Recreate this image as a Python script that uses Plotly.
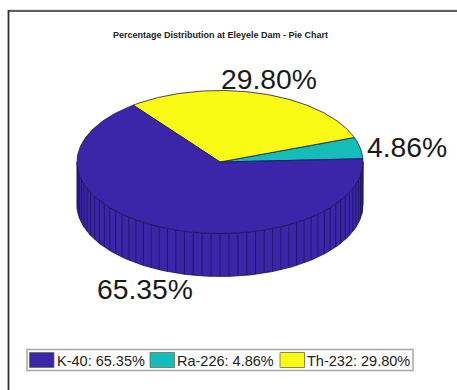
import numpy as np
import plotly.graph_objects as go

# Data
isotopes = ["K-40", "Ra-226", "Th-232"]
percent = [65.35, 4.86, 29.80]
colors = ["#3b25a8", "#14bdb8", "#f9fb15"]
title = "Percentage Distribution at Eleyele Dam - Pie Chart"

# Counter-clockwise drawing order, starting slightly above due east
draw_order = [1, 2, 0]
START_ANGLE = 2.6

# Projection of the disc onto the canvas
CX, CY, RX, RY, DEPTH = 220.0, 162.0, 143.0, 71.5, 43.0
EDGE = "#1c1458"
FACET_DEG = 3.6


def ex(a):
    return CX + RX * np.cos(np.radians(a))


def ey(a):
    return CY - RY * np.sin(np.radians(a))


fig = go.Figure()
total = sum(percent)

# Side wall of the disc (front half)
t = np.linspace(180, 360, 181)
fig.add_trace(go.Scatter(
    x=np.r_[ex(t), ex(t[::-1])], y=np.r_[ey(t), ey(t[::-1]) + DEPTH],
    fill="toself", fillcolor=colors[0], mode="lines",
    line=dict(color=EDGE, width=0.8), hoverinfo="skip", showlegend=False))

# Facet lines of the wall
fa = np.arange(180, 360 + 0.01, FACET_DEG)
fx, fy = [], []
for a in fa:
    fx += [ex(a), ex(a), None]
    fy += [ey(a), ey(a) + DEPTH, None]
fig.add_trace(go.Scatter(x=fx, y=fy, mode="lines",
                         line=dict(color=EDGE, width=0.8),
                         hoverinfo="skip", showlegend=False))

# Top face wedges, sized from the values
start = START_ANGLE
for i in draw_order:
    sweep = percent[i] / total * 360.0
    t = np.linspace(start, start + sweep, max(int(sweep) + 2, 8))
    fig.add_trace(go.Scatter(
        x=np.r_[CX, ex(t), CX], y=np.r_[CY, ey(t), CY],
        fill="toself", fillcolor=colors[i], mode="lines",
        line=dict(color=EDGE, width=0.8),
        name=isotopes[i], text=f"{isotopes[i]}: {percent[i]:.2f}%",
        hoverinfo="text", showlegend=False))
    start += sweep

shapes = [
    # outer frame, open to the right and bottom
    dict(type="line", x0=8.5, x1=457, y0=10, y1=10, line=dict(color="#c8c8c8", width=1)),
    dict(type="line", x0=8, x1=457, y0=11, y1=11, line=dict(color="#303030", width=1.6)),
    dict(type="line", x0=8.5, x1=8.5, y0=10, y1=390, line=dict(color="#303030", width=1.8)),
    # legend box
    dict(type="rect", x0=27, x1=413, y0=349.5, y1=370.5,
         line=dict(color="#a8a8a8", width=1.5), fillcolor="white"),
]
annotations = [
    dict(x=220, y=35, text=f"<b>{title}</b>", showarrow=False,
         font=dict(size=9, color="#222222", family="Liberation Sans")),
]

# Percent labels on the chart
label_pos = {0: (144.5, 289), 1: (406.5, 147), 2: (269, 79)}
for i, (lx, ly) in label_pos.items():
    annotations.append(dict(x=lx, y=ly, text=f"{percent[i]:.2f}%", showarrow=False,
                            font=dict(size=28.3, color="#1a1a1a", family="Liberation Sans")))

# Hand-placed legend matching the reference's wide swatches
swatch_x = [29.5, 150, 280]
for i, sx in enumerate(swatch_x):
    shapes.append(dict(type="rect", x0=sx, x1=sx + 24.5, y0=352.5, y1=367.5,
                       fillcolor=colors[i], line=dict(color="#6a6a50", width=0.8)))
    annotations.append(dict(x=sx + 25, y=360.5, xanchor="left",
                            text=f"{isotopes[i]}: {percent[i]:.2f}%", showarrow=False,
                            font=dict(size=14.5, color="#222222", family="Liberation Sans")))
for a in annotations:
    a.setdefault("xref", "x")
    a.setdefault("yref", "y")

fig.update_layout(
    width=457, height=390, margin=dict(l=0, r=0, t=0, b=0),
    paper_bgcolor="white", plot_bgcolor="white", showlegend=False,
    xaxis=dict(range=[0, 457], visible=False, fixedrange=True),
    yaxis=dict(range=[390, 0], visible=False, fixedrange=True),
    shapes=shapes, annotations=annotations,
)
fig.write_html(
    "out.html",
    config={"displayModeBar": False},
    post_script="document.documentElement.style.overflow='hidden';document.body.style.margin='0';document.body.style.overflow='hidden';",
)
